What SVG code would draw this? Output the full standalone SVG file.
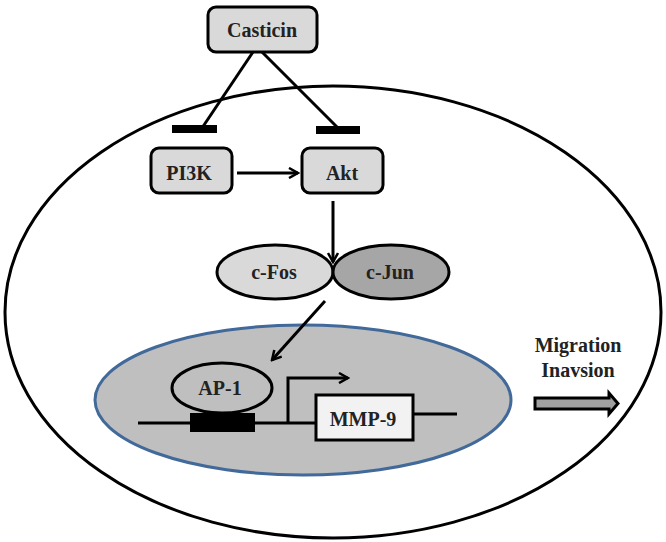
<svg xmlns="http://www.w3.org/2000/svg" width="666" height="542" viewBox="0 0 666 542">
<defs>
<style>
.t{font-family:"Liberation Serif","Times New Roman",serif;font-weight:bold;font-size:20px;fill:#222;text-anchor:middle}
.box{fill:#d9d9d9;stroke:#000;stroke-width:3}
.ln{stroke:#000;stroke-width:3;fill:none}
</style>
<marker id="ah" viewBox="0 0 12 12" refX="10" refY="6" markerWidth="12" markerHeight="12" markerUnits="userSpaceOnUse" orient="auto">
<path d="M1,1 L10,6 L1,11" fill="none" stroke="#000" stroke-width="2.5"/>
</marker>
</defs>
<rect width="666" height="542" fill="#fff"/>
<g id="cell"><ellipse cx="333" cy="312" rx="328" ry="226" fill="none" stroke="#000" stroke-width="3"/></g>
<g id="nucleus"><ellipse cx="303" cy="400" rx="208" ry="75" fill="#bfbfbf" stroke="#41699a" stroke-width="3"/></g>
<g id="connectors">
<line class="ln" x1="253" y1="52" x2="202" y2="128"/>
<rect x="172" y="125" width="45" height="8" fill="#000"/>
<line class="ln" x1="262" y1="52" x2="338" y2="128"/>
<rect x="316" y="126" width="44" height="8" fill="#000"/>
<line class="ln" x1="237" y1="173" x2="298" y2="173" marker-end="url(#ah)"/>
<line class="ln" x1="333" y1="201" x2="333" y2="262" marker-end="url(#ah)"/>
<line class="ln" x1="325" y1="301" x2="272" y2="360" marker-end="url(#ah)"/>
</g>
<g id="casticin"><rect class="box" x="208" y="7" width="109" height="45" rx="8"/><text class="t" x="262" y="37">Casticin</text></g>
<g id="pi3k"><rect class="box" x="151" y="148" width="81" height="45" rx="8"/><text class="t" x="189" y="180">PI3K</text></g>
<g id="akt"><rect class="box" x="302" y="148" width="81" height="45" rx="8"/><text class="t" x="342" y="180">Akt</text></g>
<g id="cfos"><ellipse cx="275" cy="272" rx="58" ry="27" fill="#d9d9d9" stroke="#000" stroke-width="3"/><text class="t" x="274" y="279">c-Fos</text></g>
<g id="cjun"><ellipse cx="391" cy="272" rx="58" ry="27" fill="#a6a6a6" stroke="#000" stroke-width="3"/><text class="t" x="390" y="279">c-Jun</text></g>
<g id="dna">
<line class="ln" x1="138" y1="423" x2="316" y2="423"/>
<line class="ln" x1="413" y1="414" x2="457" y2="414"/>
<rect x="190" y="413" width="65" height="19" fill="#000"/>
<path class="ln" d="M288,423 L288,378 L348,378" marker-end="url(#ah)"/>
</g>
<g id="ap1"><ellipse cx="222" cy="388" rx="50" ry="25" fill="#bfbfbf" stroke="#000" stroke-width="3"/><text class="t" x="220" y="395">AP-1</text></g>
<g id="mmp9"><rect x="316" y="395" width="97" height="45" fill="#f2f2f2" stroke="#000" stroke-width="3"/><text class="t" x="363" y="426">MMP-9</text></g>
<g id="migration">
<text class="t" x="578" y="352">Migration</text>
<text class="t" x="578" y="377">Inavsion</text>
<path d="M535,398 L609,398 L609,393 L618,403.5 L609,414 L609,409 L535,409 Z" fill="#a0a0a0" stroke="#000" stroke-width="3" stroke-linejoin="miter"/>
</g>
</svg>
